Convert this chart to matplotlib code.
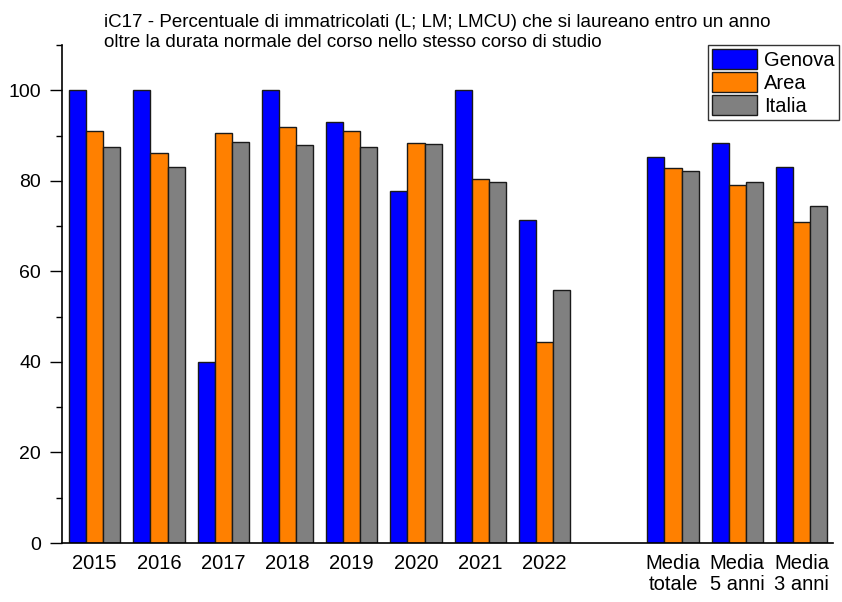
import matplotlib
matplotlib.use("Agg")
import matplotlib.pyplot as plt
import numpy as np

plt.rcParams['font.family'] = ['Liberation Sans', 'DejaVu Sans']

categories = ["2015", "2016", "2017", "2018", "2019", "2020", "2021", "2022",
              "Media\ntotale", "Media\n5 anni", "Media\n3 anni"]
positions = [0, 1, 2, 3, 4, 5, 6, 7, 9, 10, 11]
genova = [100, 100, 40.0, 100, 93.0, 77.8, 100, 71.4, 85.3, 88.4, 83.1]
area = [90.9, 86.2, 90.5, 91.8, 90.9, 88.3, 80.3, 44.3, 82.9, 79.1, 71.0]
italia = [87.4, 83.0, 88.6, 87.9, 87.4, 88.1, 79.7, 55.9, 82.2, 79.8, 74.5]
series = [("Genova", genova, "#0000FF"), ("Area", area, "#FF8000"), ("Italia", italia, "#808080")]

fig = plt.figure(figsize=(8.42, 6.02), dpi=100)
ax = fig.add_axes([62/842, 59/602, 771/842, 498/602])

w = 0.8/3
x = np.array(positions, dtype=float)
for i, (name, vals, col) in enumerate(series):
    ax.bar(x + (i-1)*w, vals, width=w, color=col, edgecolor="#1a1a1a", linewidth=1.0, label=name)

ax.set_xlim(-0.509, 11.49)
ax.set_ylim(0, 110)
ax.set_xticks(x)
ax.set_xticklabels(categories, fontsize=14.5, va="top", linespacing=1.15)
ax.tick_params(axis="x", length=0, pad=8)
ax.set_yticks([0, 20, 40, 60, 80, 100])
ax.set_yticks([10, 30, 50, 70, 90, 110], minor=True)
ax.tick_params(axis="y", which="major", length=9, width=1, labelsize=14, pad=6, direction="out")
ax.tick_params(axis="y", which="minor", length=4, width=1, direction="out")
for s in ["top", "right"]:
    ax.spines[s].set_visible(False)
for s in ["left", "bottom"]:
    ax.spines[s].set_linewidth(1.2)

fig.text(104/842, 1-27/602, "iC17 - Percentuale di immatricolati (L; LM; LMCU) che si laureano entro un anno",
         fontsize=13.5, ha="left", va="baseline")
fig.text(104/842, 1-47/602, "oltre la durata normale del corso nello stesso corso di studio",
         fontsize=13.5, ha="left", va="baseline")

leg = ax.legend(loc="upper right", bbox_to_anchor=(839/842, 1-45/602), bbox_transform=fig.transFigure,
                fontsize=14.5, frameon=True, fancybox=False, edgecolor="black",
                handlelength=2.25, handleheight=1.15, handletextpad=0.35, labelspacing=0.12,
                borderpad=0.2, borderaxespad=0)
leg.get_frame().set_linewidth(1.0)

fig.savefig("out.png", dpi=100)
